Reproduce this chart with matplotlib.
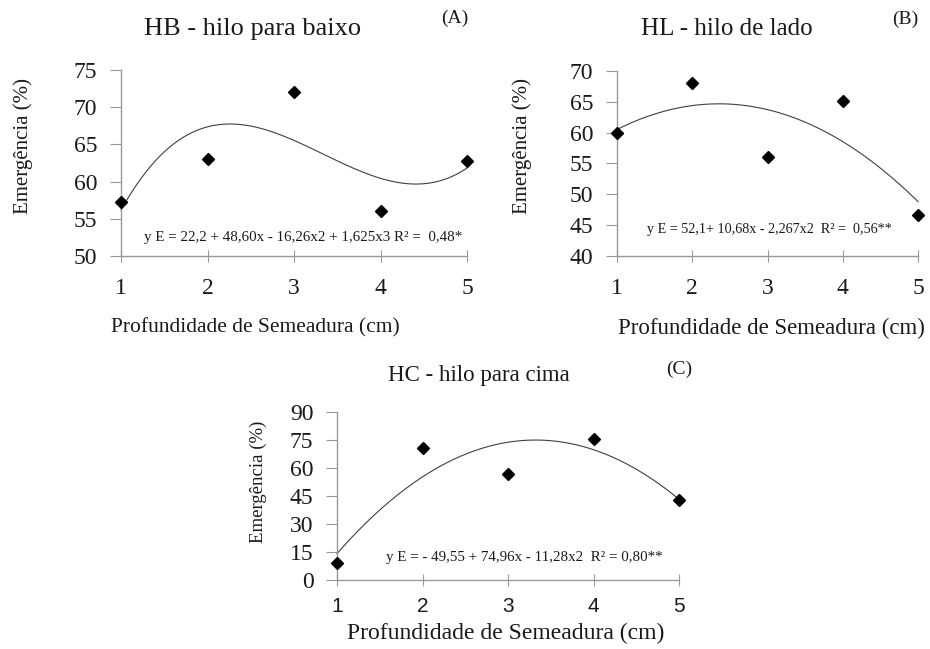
import numpy as np
import matplotlib
matplotlib.use("Agg")
import matplotlib.pyplot as plt

# ---- data ----
depth = [1, 2, 3, 4, 5]
hb_values = [57.2, 63.0, 72.0, 56.0, 62.8]
hl_values = [60.0, 68.0, 56.0, 65.2, 46.7]
hc_values = [9.0, 70.5, 56.8, 75.8, 42.7]
# printed regression coefficients (highest power first)
hb_coef = [1.625, -16.26, 48.60, 22.2]
hl_coef = [-2.267, 10.68, 52.1]
hc_coef = [-11.28, 74.96, -49.55]
hb_yticks = [50, 55, 60, 65, 70, 75]
hl_yticks = [40, 45, 50, 55, 60, 65, 70]
hc_yticks = [0, 15, 30, 45, 60, 75, 90]
titles = ["HB - hilo para baixo", "HL - hilo de lado", "HC - hilo para cima"]
letters = ["(A)", "(B)", "(C)"]
equations = ["y E = 22,2 + 48,60x - 16,26x2 + 1,625x3 R² =  0,48*",
             "y E = 52,1+ 10,68x - 2,267x2  R² =  0,56**",
             "y E = - 49,55 + 74,96x - 11,28x2  R² = 0,80**"]
xlabel = "Profundidade de Semeadura (cm)"
ylabel = "Emergência (%)"

W, H = 930, 649
fig = plt.figure(figsize=(W / 100, H / 100), dpi=100)
SERIF = "Liberation Serif"
SANS = "Liberation Sans"
GREY = "#999999"
TXT = "#1a1a1a"


def px_axes(l, r, t, b):
    return fig.add_axes([l / W, 1 - b / H, (r - l) / W, (b - t) / H])


def ftext(x, y, s, **kw):
    fig.text(x / W, 1 - y / H, s, ha="center", va="center", color=TXT, **kw)


def panel(ax, vals, coef, yticks, xtick_font):
    xs = np.linspace(1, 5, 200)
    ax.plot(xs, np.polyval(coef, xs), color="#404040", lw=0.8, clip_on=False)
    ax.plot(depth, vals, "D", color="black", ms=6.5, clip_on=False, zorder=5)
    ax.set_xlim(1, 5)
    ax.set_ylim(yticks[0], yticks[-1])
    ax.set_xticks(depth)
    ax.set_yticks(yticks)
    for s in ["top", "right"]:
        ax.spines[s].set_visible(False)
    for s in ["left", "bottom"]:
        ax.spines[s].set_color(GREY)
        ax.spines[s].set_linewidth(1.0)
    ax.tick_params(axis="y", direction="out", length=8, color=GREY, pad=9)
    ax.tick_params(axis="x", direction="inout", length=8,
                   color=GREY, pad=12 if xtick_font == SERIF else 8)
    for lab in ax.get_yticklabels():
        lab.set_fontfamily(SERIF)
        lab.set_fontsize(17)
        lab.set_color(TXT)
    for lab in ax.get_xticklabels():
        lab.set_fontfamily(xtick_font)
        lab.set_fontsize(17 if xtick_font == SERIF else 15)
        lab.set_color(TXT)
    ax.patch.set_alpha(0)


axA = px_axes(121, 467, 70, 256)
panel(axA, hb_values, hb_coef, hb_yticks, SERIF)
axB = px_axes(617, 918, 71, 256)
panel(axB, hl_values, hl_coef, hl_yticks, SERIF)
axC = px_axes(337, 679, 412, 580)
panel(axC, hc_values, hc_coef, hc_yticks, SANS)

# titles and letters
ftext(253, 29, titles[0], family=SERIF, fontsize=19)
ftext(727, 29, titles[1], family=SERIF, fontsize=18)
ftext(479, 375, titles[2], family=SERIF, fontsize=16.5)
ftext(455, 18, letters[0], family=SERIF, fontsize=14)
ftext(905, 19, letters[1], family=SERIF, fontsize=14)
ftext(679, 369, letters[2], family=SERIF, fontsize=14)

# y labels
fig.text(23 / W, 1 - 146 / H, ylabel, rotation=90, ha="center", va="center",
         family=SERIF, fontsize=15, color=TXT)
fig.text(522 / W, 1 - 146 / H, ylabel, rotation=90, ha="center", va="center",
         family=SERIF, fontsize=15, color=TXT)
fig.text(258 / W, 1 - 482 / H, ylabel, rotation=90, ha="center", va="center",
         family=SERIF, fontsize=13.5, color=TXT)

# x labels
ftext(255, 328, xlabel, family=SERIF, fontsize=15.5)
ftext(771, 328, xlabel, family=SERIF, fontsize=16.5)
ftext(506, 633, xlabel, family=SERIF, fontsize=17)

# equations
ftext(303, 238, equations[0], family=SERIF, fontsize=10.8)
ftext(769, 229, equations[1], family=SERIF, fontsize=10.2)
ftext(524, 557, equations[2], family=SERIF, fontsize=10.8)

fig.savefig("out.png", dpi=100)
